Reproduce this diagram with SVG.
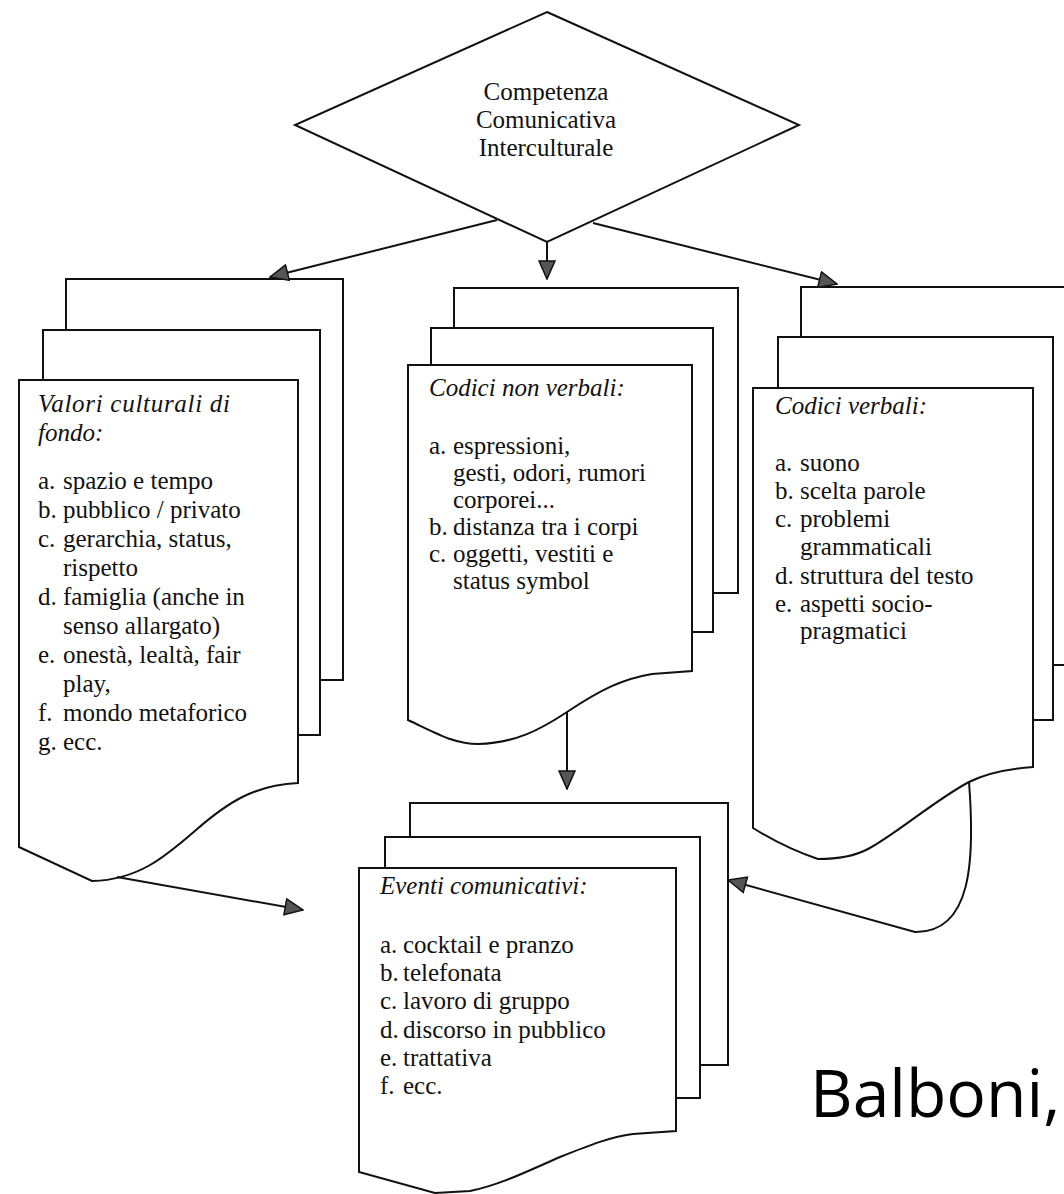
<svg xmlns="http://www.w3.org/2000/svg" width="1064" height="1194" viewBox="0 0 1064 1194">
<style>
.pg{fill:#fff;stroke:#111;stroke-width:2;stroke-linejoin:miter}
.t{font-family:"Liberation Serif","Times New Roman",serif;font-size:25px;fill:#111}
.h{font-style:italic}
.c{text-anchor:middle}
.ln{fill:none;stroke:#111;stroke-width:2}
.big{font-family:"Open Sans","Liberation Sans",sans-serif;font-size:66px;fill:#000}
</style>
<defs>
<marker id="ah" viewBox="0 0 20 18" refX="19" refY="9" markerWidth="20" markerHeight="18" markerUnits="userSpaceOnUse" orient="auto">
<path d="M1,1 L19,9 L1,17 Z" fill="#555" stroke="#111" stroke-width="1.5"/>
</marker>
</defs>
<rect width="1064" height="1194" fill="#fff"/>

<g id="competenza">
<polygon class="pg" points="547,12 799,125 547,242 295,125"/>
<text class="t c" x="546" y="100">Competenza</text>
<text class="t c" x="546" y="128">Comunicativa</text>
<text class="t c" x="546" y="156">Interculturale</text>
</g>

<g id="valori">
<rect class="pg" x="66" y="279" width="277" height="401"/>
<rect class="pg" x="43" y="330" width="277" height="405"/>
<path class="pg" d="M19,380 L298,380 L298,783 C255,785 228,802 196,830 C165,857 138,880 92,881 L19,847 Z"/>
<text class="t h" x="38" y="412" textLength="192">Valori culturali di</text>
<text class="t h" x="38" y="441">fondo:</text>
<text class="t" y="489"><tspan x="38">a.</tspan><tspan x="63">spazio e tempo</tspan></text>
<text class="t" y="518"><tspan x="38">b.</tspan><tspan x="63">pubblico / privato</tspan></text>
<text class="t" y="547"><tspan x="38">c.</tspan><tspan x="63">gerarchia, status,</tspan></text>
<text class="t" x="63" y="576">rispetto</text>
<text class="t" y="605"><tspan x="38">d.</tspan><tspan x="63">famiglia (anche in</tspan></text>
<text class="t" x="63" y="634">senso allargato)</text>
<text class="t" y="663"><tspan x="38">e.</tspan><tspan x="63">onestà, lealtà, fair</tspan></text>
<text class="t" x="63" y="692">play,</text>
<text class="t" y="721"><tspan x="38">f.</tspan><tspan x="63">mondo metaforico</tspan></text>
<text class="t" y="750"><tspan x="38">g.</tspan><tspan x="63">ecc.</tspan></text>
</g>

<g id="non-verbali">
<rect class="pg" x="454" y="288" width="284" height="305"/>
<rect class="pg" x="431" y="328" width="282" height="304"/>
<path class="pg" d="M408,365 L692,365 L692,671 L652,674 C622,679 600,690 567,712 C540,730 515,743 478,744 C455,744 440,735 408,720 Z"/>
<text class="t h" x="429" y="396">Codici non verbali:</text>
<text class="t" y="454"><tspan x="429">a.</tspan><tspan x="453">espressioni,</tspan></text>
<text class="t" x="453" y="481">gesti, odori, rumori</text>
<text class="t" x="453" y="508">corporei...</text>
<text class="t" y="535"><tspan x="429">b.</tspan><tspan x="453">distanza tra i corpi</tspan></text>
<text class="t" y="562"><tspan x="429">c.</tspan><tspan x="453">oggetti, vestiti e</tspan></text>
<text class="t" x="453" y="589">status symbol</text>
</g>

<g id="verbali">
<rect class="pg" x="801" y="287" width="280" height="378"/>
<rect class="pg" x="778" y="337" width="275" height="383"/>
<path class="pg" d="M753,388 L1033,388 L1033,767 C1005,769 985,774 969,782 C935,800 895,835 868,849 C855,856 835,859 818,859 Q785,848 753,828 Z"/>
<text class="t h" x="775" y="414">Codici verbali:</text>
<text class="t" y="471"><tspan x="775">a.</tspan><tspan x="800">suono</tspan></text>
<text class="t" y="499"><tspan x="775">b.</tspan><tspan x="800">scelta parole</tspan></text>
<text class="t" y="527"><tspan x="775">c.</tspan><tspan x="800">problemi</tspan></text>
<text class="t" x="800" y="555">grammaticali</text>
<text class="t" y="584"><tspan x="775">d.</tspan><tspan x="800">struttura del testo</tspan></text>
<text class="t" y="612"><tspan x="775">e.</tspan><tspan x="800">aspetti socio-</tspan></text>
<text class="t" x="800" y="639">pragmatici</text>
</g>

<g id="eventi">
<rect class="pg" x="410" y="803" width="318" height="262"/>
<rect class="pg" x="385" y="837" width="315" height="261"/>
<path class="pg" d="M359,868 L676,868 L676,1131 L633,1134 C610,1137 590,1145 560,1157 C530,1170 500,1185 470,1191 L435,1193 L359,1172 Z"/>
<text class="t h" x="380" y="894">Eventi comunicativi:</text>
<text class="t" y="953"><tspan x="380">a.</tspan><tspan x="403">cocktail e pranzo</tspan></text>
<text class="t" y="981"><tspan x="380">b.</tspan><tspan x="403">telefonata</tspan></text>
<text class="t" y="1009"><tspan x="380">c.</tspan><tspan x="403">lavoro di gruppo</tspan></text>
<text class="t" y="1038"><tspan x="380">d.</tspan><tspan x="403">discorso in pubblico</tspan></text>
<text class="t" y="1066"><tspan x="380">e.</tspan><tspan x="403">trattativa</tspan></text>
<text class="t" y="1094"><tspan x="380">f.</tspan><tspan x="403">ecc.</tspan></text>
</g>

<g id="connectors">
<path class="ln" d="M497,220 L270,277" marker-end="url(#ah)"/>
<path class="ln" d="M547,242 L547,279" marker-end="url(#ah)"/>
<path class="ln" d="M593,223 L837,284" marker-end="url(#ah)"/>
<path class="ln" d="M117,877 L303,910" marker-end="url(#ah)"/>
<path class="ln" d="M567,712 L567,789" marker-end="url(#ah)"/>
<path class="ln" d="M969,782 C975,860 972,933 915,932 L728,880" marker-end="url(#ah)"/>
</g>

<text class="big" x="810" y="1117">Balboni,</text>
</svg>
